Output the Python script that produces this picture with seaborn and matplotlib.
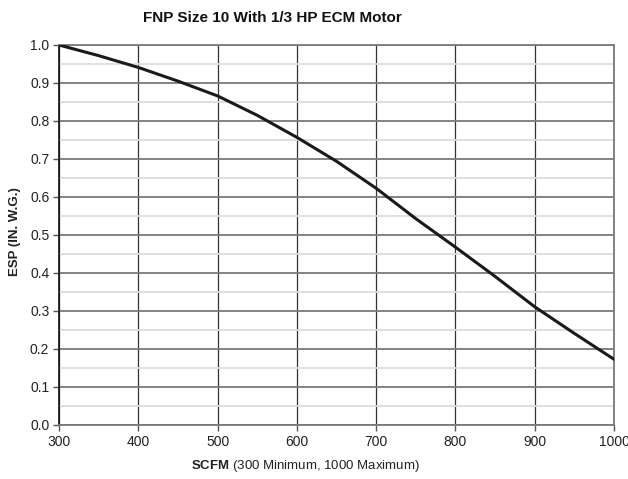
import matplotlib
matplotlib.use("Agg")
import matplotlib.pyplot as plt
import seaborn as sns
from matplotlib.ticker import MultipleLocator

# curve
scfm = [300, 350, 400, 450, 500, 550, 600, 650, 700, 750, 800, 850, 900, 950, 1000]
esp = [1.0, 0.972, 0.941, 0.905, 0.866, 0.815, 0.757, 0.694, 0.623, 0.543, 0.468, 0.391, 0.311, 0.241, 0.173]

title = "FNP Size 10 With 1/3 HP ECM Motor"
xlabel = r"$\bf{SCFM}$ (300 Minimum, 1000 Maximum)"
ylabel = "ESP (IN. W.G.)"

sns.set_theme(style="white")
plt.rcParams["font.family"] = ["Liberation Sans", "DejaVu Sans"]
plt.rcParams["mathtext.fontset"] = "custom"
plt.rcParams["mathtext.rm"] = "Liberation Sans"
plt.rcParams["mathtext.bf"] = "Liberation Sans:bold"

fig = plt.figure(figsize=(6.28, 4.79), dpi=100)
ax = fig.add_axes([59 / 628, 1 - 425 / 479, (614 - 59) / 628, (425 - 45) / 479])

sns.lineplot(x=scfm, y=esp, ax=ax, color="#1a1a1a", linewidth=2.2, zorder=5)

ax.set_xlim(300, 1000)
ax.set_ylim(0, 1.0)
ax.xaxis.set_major_locator(MultipleLocator(100))
ax.yaxis.set_major_locator(MultipleLocator(0.1))
ax.yaxis.set_minor_locator(MultipleLocator(0.05))
ax.set_yticklabels([f"{v:.1f}" for v in ax.get_yticks()])

ax.grid(which="major", axis="y", color="#7a7a7a", linewidth=1.3)
ax.grid(which="minor", axis="y", color="#dcdcdc", linewidth=1.3)
ax.grid(which="major", axis="x", color="#333333", linewidth=0.9)
ax.set_axisbelow(True)

for side in ["top", "right", "bottom"]:
    ax.spines[side].set_color("#7a7a7a")
    ax.spines[side].set_linewidth(1.3)
ax.spines["left"].set_color("#111111")
ax.spines["left"].set_linewidth(1.2)

ax.tick_params(axis="both", which="major", direction="out", length=4, width=1,
               color="#555555", labelsize=10, labelcolor="#222222", pad=3)
ax.tick_params(axis="both", which="minor", length=0)
ax.tick_params(axis="x", bottom=True)
ax.tick_params(axis="y", left=True)

ax.set_xlabel("")
ax.set_ylabel("")
fig.text(272 / 628, 1 - 18 / 479, title, ha="center", va="center",
         fontsize=11, fontweight="bold", color="#111111")
fig.text(305 / 628, 1 - 466 / 479, xlabel, ha="center", va="center",
         fontsize=9.5, color="#222222")
fig.text(15 / 628, 1 - 232 / 479, ylabel, ha="center", va="center",
         rotation=90, fontsize=9.5, fontweight="bold", color="#222222")

fig.savefig("out.png", dpi=100)
